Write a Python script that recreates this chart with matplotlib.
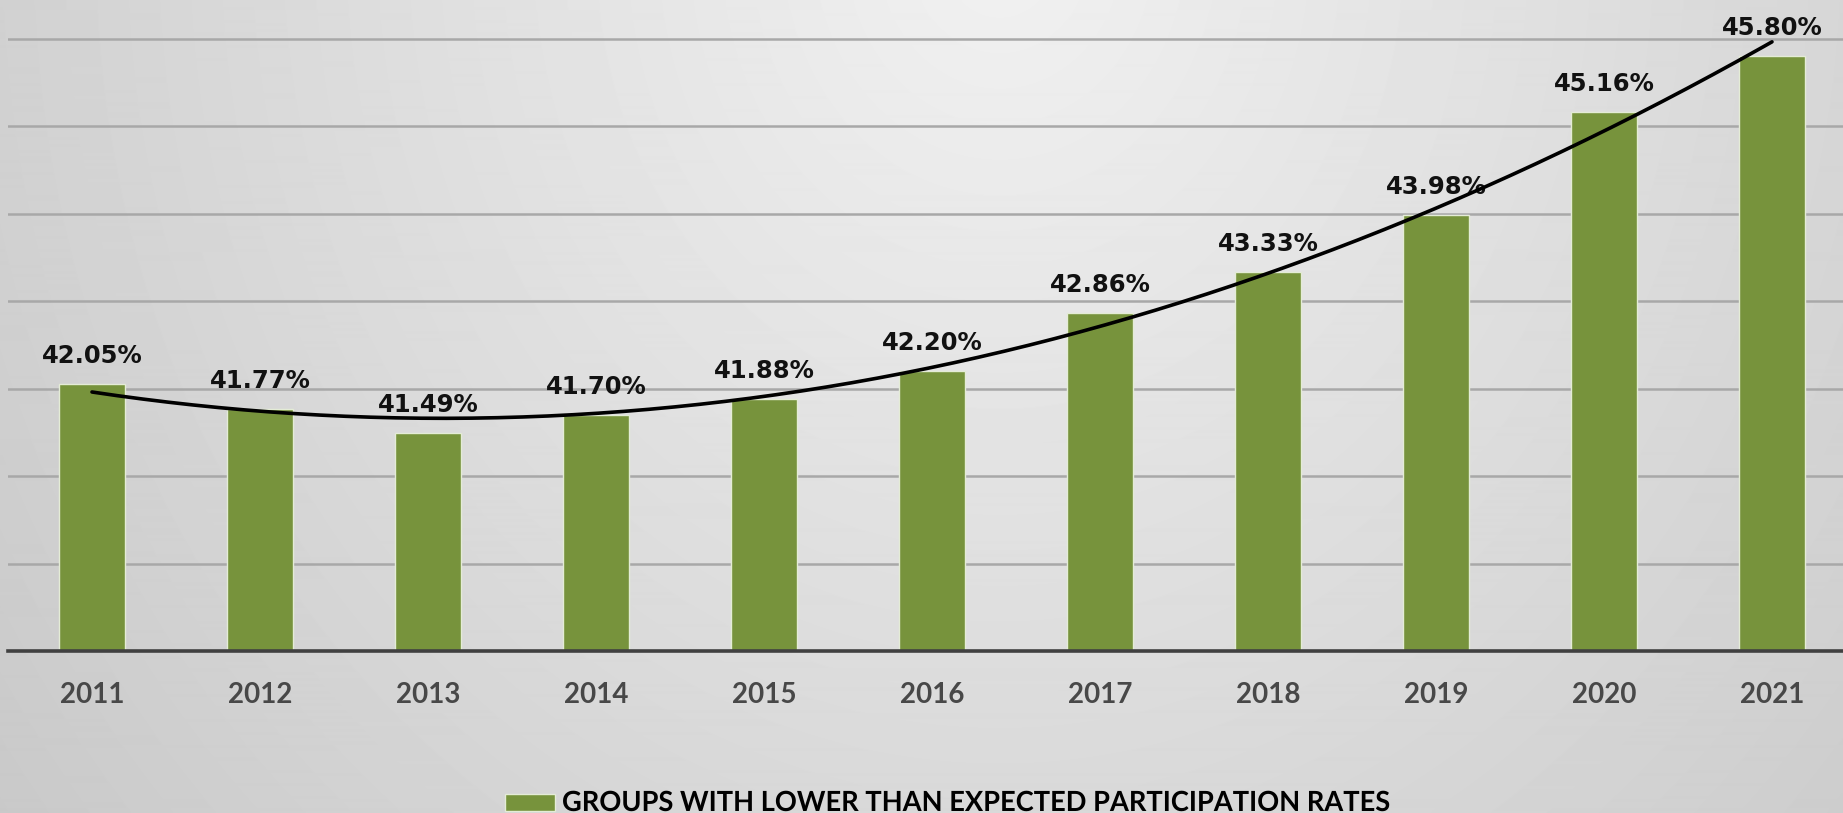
import numpy as np
import matplotlib
matplotlib.use("Agg")
import matplotlib.pyplot as plt
from matplotlib.patches import Rectangle
from matplotlib.patheffects import AbstractPathEffect
from matplotlib.transforms import Affine2D

# Share of groups with lower than expected participation rates, by year
years = ["2011", "2012", "2013", "2014", "2015", "2016",
         "2017", "2018", "2019", "2020", "2021"]
rates = [42.05, 41.77, 41.49, 41.70, 41.88, 42.20,
         42.86, 43.33, 43.98, 45.16, 45.80]
series_name = "GROUPS WITH LOWER THAN EXPECTED PARTICIPATION RATES"

W, H, DPI = 1843, 813, 100
BAR_GREEN = "#77933c"


class HorizontalSqueeze(AbstractPathEffect):
    """Compress glyph outlines horizontally about a fixed display x."""

    def __init__(self, sx, x0):
        super().__init__()
        self.sx = sx
        self.x0 = x0

    def draw_path(self, renderer, gc, tpath, affine, rgbFace=None):
        squeeze = Affine2D().translate(-self.x0, 0).scale(self.sx, 1).translate(self.x0, 0)
        renderer.draw_path(gc, tpath, affine + squeeze, rgbFace)


fig = plt.figure(figsize=(W / DPI, H / DPI), dpi=DPI)

# Soft radial grey background, brightest near the top centre
bg = fig.add_axes([0, 0, 1, 1], zorder=-10)
yy, xx = np.mgrid[0:H, 0:W]
r = np.sqrt((xx - 1000.0) ** 2 + (0.88 * (yy + 50.0)) ** 2)
shade = np.clip(0.945 - 1.25e-4 * r, 0.76, 1.0)
bg.imshow(shade, cmap="gray", vmin=0, vmax=1, aspect="auto",
          extent=[0, 1, 0, 1], origin="upper", interpolation="bilinear")
bg.set_axis_off()

ax = fig.add_axes([8 / W, (H - 651) / H, 1 - 8 / W, 651 / H])
ax.set_facecolor("none")

x = np.arange(len(years))
bars = ax.bar(x, rates, width=0.39, color=BAR_GREEN,
              edgecolor="#e4ecd6", linewidth=1.0, zorder=3)

# Second-order polynomial trend through the yearly values
coef = np.polyfit(x, rates, 2)
xs = np.linspace(x[0], x[-1], 200)
ax.plot(xs, np.polyval(coef, xs), color="black", lw=2.6, zorder=6,
        solid_capstyle="round")

for xi, v in zip(x, rates):
    ax.annotate(f"{v:.2f}%", (xi, v), xytext=(0, 21), textcoords="offset pixels",
                ha="center", va="baseline", fontsize=17.5, fontweight="bold",
                family="DejaVu Sans", color="#111111", zorder=5)

ax.set_ylim(39, 39 + 651 / 87.5)
ax.set_xlim(-0.5, (W - 92) / 168)
ax.set_yticks(np.arange(40, 47, 1))
ax.yaxis.grid(True, color="#a8a8a8", lw=1.8, zorder=0)
ax.set_axisbelow(True)
ax.tick_params(axis="y", left=False, labelleft=False)
ax.tick_params(axis="x", bottom=False, pad=18.5)
ax.set_xticks(x)
ax.set_xticklabels(years, fontsize=20, fontweight="bold",
                   family="Lato", color="#484848")
for side in ("top", "right", "left"):
    ax.spines[side].set_visible(False)
ax.spines["bottom"].set_color("#404040")
ax.spines["bottom"].set_linewidth(2.6)
ax.spines["bottom"].set_zorder(7)

# Legend: swatch plus caption along the bottom edge
fig.patches.append(Rectangle((505 / W, (H - 811) / H), 50 / W, 17 / H,
                             transform=fig.transFigure, facecolor=BAR_GREEN,
                             edgecolor="#e4ecd6", lw=1.0))
cap = fig.text(562 / W, (H - 811) / H, series_name, ha="left", va="baseline",
               fontsize=20, fontweight="bold", family="Lato", color="black")
fig.canvas.draw()
natural = cap.get_window_extent().width
cap.set_path_effects([HorizontalSqueeze(828.0 / natural, 562.0)])

fig.savefig("out.png", dpi=DPI)
